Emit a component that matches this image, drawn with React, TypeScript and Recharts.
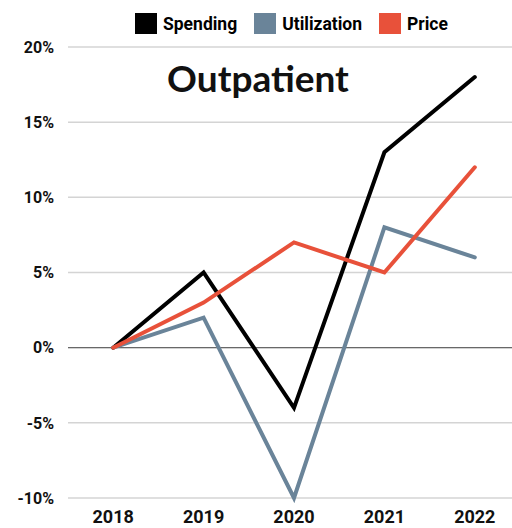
import { LineChart, Line, XAxis, YAxis, CartesianGrid, Legend, ReferenceLine } from 'recharts'

const years = ['2018', '2019', '2020', '2021', '2022']
const spending = [0, 5, -4, 13, 18]
const utilization = [0, 2, -10, 8, 6]
const price = [0, 3, 7, 5, 12]
const yTicks = [-10, -5, 0, 5, 10, 15, 20]

const series = [
  { key: 'spending', name: 'Spending', color: '#000000' },
  { key: 'utilization', name: 'Utilization', color: '#6a8499' },
  { key: 'price', name: 'Price', color: '#e8513a' },
]

const data = years.map((year, i) => ({
  year,
  spending: spending[i],
  utilization: utilization[i],
  price: price[i],
}))

const font = 'Roboto, sans-serif'

function ChartLegend() {
  return (
    <div style={{ display: 'flex', alignItems: 'center', fontFamily: font, fontWeight: 700, fontSize: 17.5 }}>
      {series.map((s) => (
        <div key={s.key} style={{ display: 'flex', alignItems: 'center', marginRight: 17 }}>
          <span style={{ width: 22, height: 21, background: s.color, display: 'inline-block', marginRight: 6 }} />
          <span style={{ color: '#000' }}>{s.name}</span>
        </div>
      ))}
    </div>
  )
}

export default function App() {
  return (
    <div style={{ position: 'absolute', left: 0, top: 0, width: 512, height: 528, overflow: 'hidden', background: '#fff' }}>
      <LineChart width={520} height={528} data={data} margin={{ top: 47, right: 0, bottom: 0, left: 0 }}>
        <CartesianGrid vertical={false} stroke="#d4d4d4" strokeWidth={1.5} />
        <XAxis
          dataKey="year"
          axisLine={false}
          tickLine={false}
          tickMargin={6}
          height={30}
          interval={0}
          tick={{ fill: '#111', fontSize: 18, fontWeight: 700, fontFamily: font }}
          scale="band"
        />
        <YAxis
          domain={[-10, 20]}
          ticks={yTicks}
          width={68}
          axisLine={false}
          tickLine={false}
          tickMargin={8}
          tickFormatter={(v: number) => `${v}%`}
          tick={{ fill: '#111', fontSize: 16, fontWeight: 700, fontFamily: font }}
        />
        <ReferenceLine y={0} stroke="#555" strokeWidth={1} />
        <Legend verticalAlign="middle" content={<ChartLegend />} wrapperStyle={{ top: 13, left: 135, width: 'auto' }} />
        <text x={258} y={92} textAnchor="middle" fontFamily="Lato, sans-serif" fontWeight={700} fontSize={37} fill="#111">
          Outpatient
        </text>
        {series.map((s) => (
          <Line
            key={s.key}
            type="linear"
            dataKey={s.key}
            name={s.name}
            stroke={s.color}
            strokeWidth={4}
            strokeLinecap="round"
            dot={false}
            activeDot={false}
            isAnimationActive={false}
          />
        ))}
      </LineChart>
    </div>
  )
}
